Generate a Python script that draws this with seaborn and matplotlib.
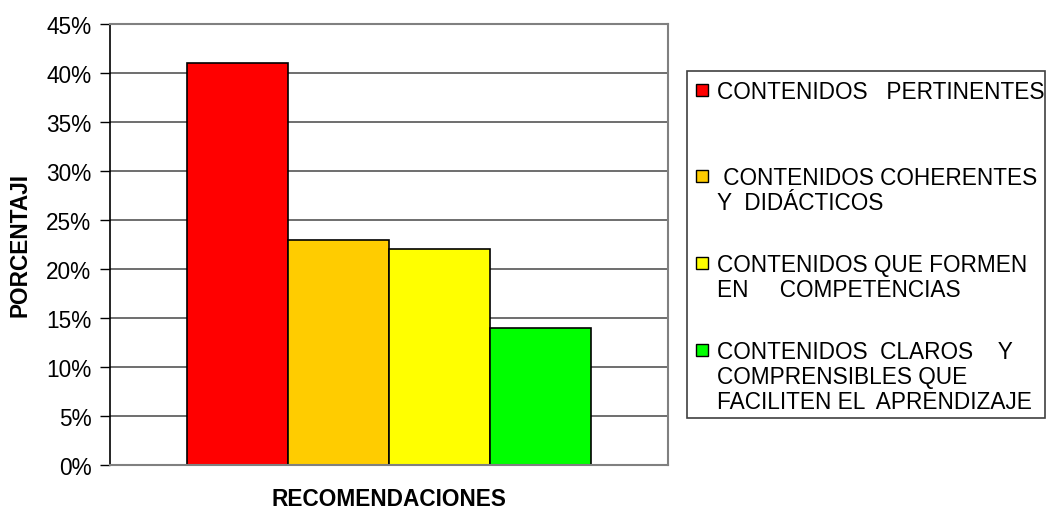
import matplotlib
matplotlib.use("Agg")
import matplotlib.pyplot as plt
from matplotlib.patches import Rectangle
from matplotlib.ticker import FuncFormatter
import pandas as pd
import seaborn as sns

# datos
categorias = ["CONTENIDOS   PERTINENTES",
              " CONTENIDOS COHERENTES\nY  DIDÁCTICOS",
              "CONTENIDOS QUE FORMEN\nEN     COMPETENCIAS",
              "CONTENIDOS  CLAROS    Y\nCOMPRENSIBLES QUE\nFACILITEN EL  APRENDIZAJE"]
porcentajes = [41, 23, 22, 14]
colores = ["#FF0000", "#FFCC00", "#FFFF00", "#00FF00"]

W, H = 1047, 510


def fx(px):
    return px / W


def fy(py):
    return 1 - py / H


sns.set_style("white")
plt.rcParams["font.family"] = ["Liberation Sans", "DejaVu Sans"]
plt.rcParams["text.color"] = "black"
plt.rcParams["axes.labelcolor"] = "black"
plt.rcParams["ytick.color"] = "black"
FS = 16.3

df = pd.DataFrame({"recomendacion": categorias, "porcentaje": porcentajes})

fig = plt.figure(figsize=(W / 100, H / 100), dpi=100)
ax = fig.add_axes([fx(110), fy(466), fx(668) - fx(110), fy(25) - fy(466)])

sns.barplot(data=df, x="recomendacion", y="porcentaje", hue="recomendacion",
            palette=colores, saturation=1, width=1, edgecolor="black",
            linewidth=1.2, legend=False, ax=ax)

ax.set_xlim(-1.262, 4.262)
ax.set_ylim(0, 45)
ax.set_yticks(range(0, 46, 5))
ax.yaxis.set_major_formatter(FuncFormatter(lambda v, pos: f"{v:.0f}%"))
ax.yaxis.grid(True, color="#555555", linewidth=1.2)
ax.set_axisbelow(True)
ax.set_xticks([])

for side in ["top", "right", "bottom"]:
    ax.spines[side].set_color("#808080")
    ax.spines[side].set_linewidth(1.5)
ax.spines["left"].set_color("black")
ax.spines["left"].set_linewidth(1.2)

ax.tick_params(axis="y", left=True, length=7, width=1, color="black",
               labelsize=FS, pad=6.5)

ax.set_ylabel("PORCENTAJI", fontsize=FS, fontweight="bold")
ax.yaxis.set_label_coords(-0.14, 0.5)
ax.set_xlabel("RECOMENDACIONES", fontsize=FS, fontweight="bold")
ax.xaxis.set_label_coords(0.5, -0.05)

# leyenda a la derecha
fig.add_artist(Rectangle((fx(687), fy(419)), fx(1045) - fx(687), fy(72) - fy(419),
                         transform=fig.transFigure, fill=False,
                         edgecolor="#404040", linewidth=1.2))
tops = [82, 168, 255, 342]
for cat, col, top in zip(categorias, colores, tops):
    fig.add_artist(Rectangle((fx(696), fy(top + 15)), fx(12), fy(0) - fy(12),
                             transform=fig.transFigure, facecolor=col,
                             edgecolor="black", linewidth=1))
    fig.text(fx(717), fy(top - 1), cat, fontsize=FS, va="top", ha="left",
             linespacing=1.11)

fig.savefig("out.png", dpi=100)
